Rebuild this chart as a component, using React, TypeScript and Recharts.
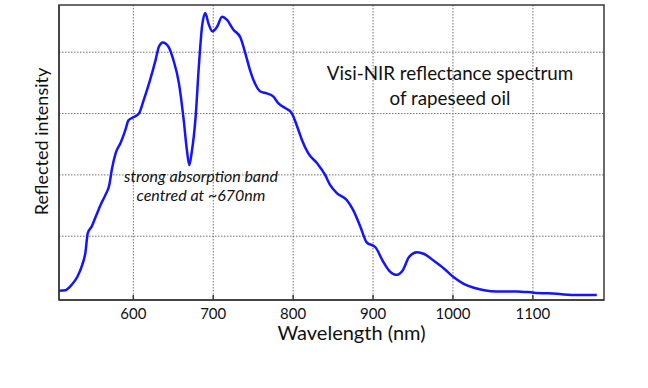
import { LineChart, Line, XAxis, YAxis, CartesianGrid, ReferenceArea, Label } from 'recharts';

// wavelength (nm)
const wavelengths = [
  507, 515, 523, 530, 536, 540, 543, 548, 553, 559, 565, 570, 573, 578, 584, 590, 594, 600,
  607, 613, 621, 628, 632, 637, 644, 650, 657, 663, 667, 670, 673, 678, 682, 686, 690, 694,
  699, 705, 711, 717, 725, 734, 740, 746, 753, 759, 767, 775, 782, 790, 798, 805, 811, 819,
  830, 840, 846, 855, 867, 875, 884, 892, 903, 912, 920, 930, 937, 945, 955, 964, 976, 989,
  1001, 1014, 1026, 1039, 1055, 1080, 1101, 1130, 1155, 1180,
];

// reflected intensity (arbitrary units, grid lines at 1..4)
const intensity = [
  0.11, 0.12, 0.21, 0.34, 0.53, 0.73, 1.05, 1.16, 1.32, 1.51, 1.67, 1.84, 2.08, 2.36, 2.52, 2.73, 2.89, 2.94,
  3.0, 3.22, 3.55, 3.88, 4.09, 4.16, 4.09, 3.88, 3.5, 2.9, 2.41, 2.16, 2.36, 2.95, 3.77, 4.42, 4.64, 4.47,
  4.34, 4.42, 4.58, 4.53, 4.37, 4.24, 3.99, 3.71, 3.47, 3.36, 3.33, 3.28, 3.16, 3.09, 3.01, 2.79, 2.57, 2.35,
  2.19, 2.0, 1.84, 1.7, 1.59, 1.43, 1.16, 0.9, 0.82, 0.6, 0.44, 0.37, 0.44, 0.66, 0.74, 0.71, 0.6, 0.47,
  0.33, 0.22, 0.16, 0.12, 0.1, 0.1, 0.08, 0.06, 0.04, 0.04,
];

const xTicks = [600, 700, 800, 900, 1000, 1100];
const yTicks = [1, 2, 3, 4];
const X_DOMAIN: [number, number] = [507, 1189];
const Y_DOMAIN: [number, number] = [-0.04, 4.77];

const data = wavelengths.map((w, i) => ({ nm: w, value: intensity[i] }));

const FONT = 'Lato, "Open Sans", sans-serif';
const AXIS = '#3a3a3a';

export default function App() {
  return (
    <div style={{ position: 'absolute', left: 0, top: 0, width: 648, height: 388, background: '#fff', fontFamily: FONT }}>
      <LineChart width={648} height={388} data={data} margin={{ top: 5, right: 44, left: 0, bottom: 0 }}>
        <CartesianGrid
          stroke="#707070"
          strokeDasharray="1.5 1.5"
          horizontal
          vertical
          horizontalValues={yTicks}
          verticalValues={xTicks}
        />
        <XAxis
          dataKey="nm"
          type="number"
          domain={X_DOMAIN}
          ticks={xTicks}
          allowDataOverflow
          height={88}
          stroke={AXIS}
          strokeWidth={1.5}
          tickSize={-5}
          tickMargin={13}
          tick={{ fontSize: 15, fill: '#111', fontFamily: FONT }}
        >
          <Label
            value="Wavelength (nm)"
            position="center"
            dx={20}
            dy={-11}
            fontSize={20}
            fill="#111"
            fontFamily={FONT}
          />
        </XAxis>
        <YAxis
          type="number"
          domain={Y_DOMAIN}
          ticks={yTicks}
          allowDataOverflow
          width={59}
          stroke={AXIS}
          strokeWidth={1.5}
          tick={() => null}
          tickLine={false}
        >
          <Label
            value="Reflected intensity"
            position="center"
            angle={-90}
            dx={12}
            dy={-11}
            fontSize={18}
            fill="#111"
            fontFamily={FONT}
          />
        </YAxis>
        <ReferenceArea
          x1={X_DOMAIN[0]}
          x2={X_DOMAIN[1]}
          y1={Y_DOMAIN[0]}
          y2={Y_DOMAIN[1]}
          fill="none"
          fillOpacity={0}
          stroke={AXIS}
          strokeWidth={1.5}
        />
        <Line
          type="monotone"
          dataKey="value"
          stroke="#1414ff"
          strokeWidth={2.5}
          dot={false}
          isAnimationActive={false}
        />
      </LineChart>
      <div style={{ position: 'absolute', left: 300, top: 60, width: 300, textAlign: 'center', fontSize: 18.8, lineHeight: '25px', color: '#111' }}>
        Visi-NIR reflectance spectrum
        <br />
        of rapeseed oil
      </div>
      <div style={{ position: 'absolute', left: 101, top: 167, width: 200, textAlign: 'center', fontSize: 16, lineHeight: '18.5px', fontStyle: 'italic', color: '#111' }}>
        strong absorption band
        <br />
        centred at ~670nm
      </div>
    </div>
  );
}
